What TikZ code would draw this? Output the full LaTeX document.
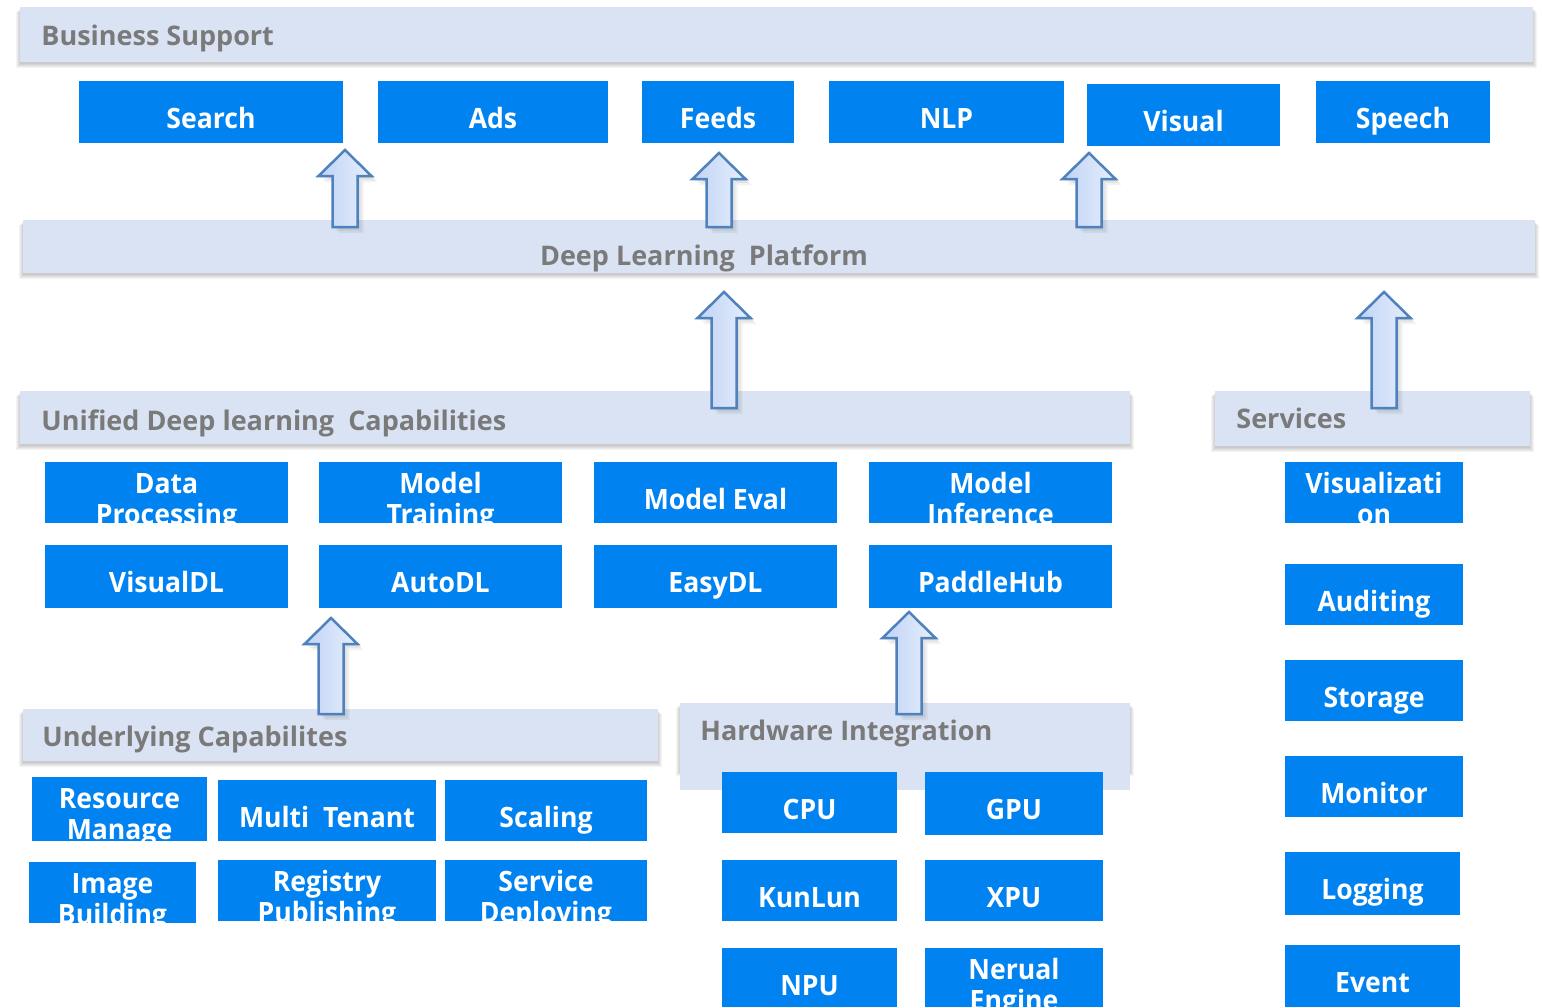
\documentclass[tikz,border=0pt]{standalone}
\usepackage{fontspec}
\newfontfamily\boxfont{Open Sans}[FakeStretch=0.95]
\newfontfamily\headfont{Open Sans}
\usetikzlibrary{calc}
\definecolor{boxblue}{RGB}{0,130,240}
\definecolor{barfill}{RGB}{218,227,243}
\definecolor{headgray}{RGB}{122,122,122}
\definecolor{arrline}{RGB}{79,129,189}
\definecolor{arrL}{RGB}{192,211,245}
\definecolor{arrR}{RGB}{230,238,252}
\tikzset{
  btext/.style={text=white, font=\boxfont\bfseries\fontsize{14}{14}\selectfont, inner sep=0pt, anchor=base},
  htext/.style={text=headgray, font=\headfont\bfseries\fontsize{13.5}{13.5}\selectfont, inner sep=0pt},
  arrowshape/.style={draw=arrline, line width=1.25pt, left color=arrL, right color=arrR, line join=miter},
  shadowlayer/.style={fill=black, opacity=0.045}
}
\newcommand\mkshadow[4]{%
  \foreach \s in {1,...,5}{\fill[shadowlayer] ({#1-\s+1},{#2+\s}) rectangle ({#3+\s-1},{#4+\s+1});}%
}
\newcommand\mkbar[5]{%
  \mkshadow{#2}{#3}{#4}{#5}%
  \fill[barfill] (#2,#3) rectangle (#4,#5);
  \coordinate (#1) at ({(#2+#4)/2},{(#3+#5)/2});
}
\newcommand\bbox[6]{%
  \fill[boxblue] (#2,#3) rectangle (#4,#5);
  \node[btext] (#1) at ({(#2+#4)/2},{#3+47}) {#6};
}
\newcommand\bboxtwo[7]{%
  \fill[boxblue] (#2,#3) rectangle (#4,#5);
  \begin{scope}
    \clip (#2,#3) rectangle (#4,#5);
    \node[btext] (#1) at ({(#2+#4)/2},{#3+31}) {#6};
    \node[btext] (#1-2) at ({(#2+#4)/2},{#3+62}) {#7};
  \end{scope}
}
\newcommand\blockarrow[4]{%
  \coordinate (#1-tip) at (#2,#3);
  \coordinate (#1-base) at (#2,#4);
  \foreach \s in {2,4,6}{%
    \fill[black,opacity=0.05] ($(#1-base)+(-12.5+\s,\s)$) -- ($(#1-tip)+(-12.5+\s,26+\s)$) -- ($(#1-tip)+(-26.5+\s,26+\s)$) -- ($(#1-tip)+(\s,\s)$) -- ($(#1-tip)+(26.5+\s,26+\s)$) -- ($(#1-tip)+(12.5+\s,26+\s)$) -- ($(#1-base)+(12.5+\s,\s)$) -- cycle;}
  \draw[arrowshape] ($(#1-base)+(-12.5,0)$) -- ($(#1-tip)+(-12.5,26)$) -- ($(#1-tip)+(-26.5,26)$) -- (#1-tip) -- ($(#1-tip)+(26.5,26)$) -- ($(#1-tip)+(12.5,26)$) -- ($(#1-base)+(12.5,0)$) -- cycle;
}
\begin{document}
\begin{tikzpicture}[x=0.5pt,y=-0.5pt]
\useasboundingbox (0,0) rectangle (1542,1007);
\fill[white] (0,0) rectangle (1542,1007);

% layer bars
\mkbar{bs}{20}{7}{1533}{62}
\mkbar{dlp}{23}{220}{1535}{273}
\mkbar{udc}{20}{391}{1130}{444}
\mkbar{srv}{1215}{391}{1530}{446}
\mkbar{uc}{23}{709}{658}{761}
\mkshadow{680}{703}{1130}{770}
\fill[barfill] (680,703) rectangle (1130,790);
\coordinate (hw) at (905,746);

\node[htext, anchor=base west] (t-bs) at (41,45) {Business Support};
\node[htext, anchor=base] (t-dlp) at (704,265) {Deep Learning\ \ Platform};
\node[htext, anchor=base west] (t-udc) at (41,430) {Unified Deep learning\ \ Capabilities};
\node[htext, anchor=base west] (t-srv) at (1236,428) {Services};
\node[htext, anchor=base west] (t-uc) at (42,746) {Underlying Capabilites};
\node[htext, anchor=base west] (t-hw) at (700,740) {Hardware Integration};

% business boxes
\bbox{search}{79}{81}{343}{143}{Search}
\bbox{ads}{378}{81}{608}{143}{Ads}
\bbox{feeds}{642}{81}{794}{143}{Feeds}
\bbox{nlp}{829}{81}{1064}{143}{NLP}
\bbox{visual}{1087}{84}{1280}{146}{Visual}
\bbox{speech}{1316}{81}{1490}{143}{Speech}

% unified capabilities
\bboxtwo{dp}{45}{462}{288}{523}{Data}{Processing}
\bboxtwo{mt}{319}{462}{562}{523}{Model}{Training}
\bbox{me}{594}{462}{837}{523}{Model Eval}
\bboxtwo{mi}{869}{462}{1112}{523}{Model}{Inference}
\bbox{vdl}{45}{545}{288}{608}{VisualDL}
\bbox{adl}{319}{545}{562}{608}{AutoDL}
\bbox{edl}{594}{545}{837}{608}{EasyDL}
\bbox{phub}{869}{545}{1112}{608}{PaddleHub}

% underlying
\bboxtwo{rm}{32}{777}{207}{841}{Resource}{Manage}
\bbox{mten}{218}{780}{436}{841}{Multi\ \ Tenant}
\bbox{scal}{445}{780}{647}{841}{Scaling}
\bboxtwo{ib}{29}{862}{196}{923}{Image}{Building}
\bboxtwo{rp}{218}{860}{436}{921}{Registry}{Publishing}
\bboxtwo{sd}{445}{860}{647}{921}{Service}{Deploying}

% hardware
\bbox{cpu}{722}{772}{897}{833}{CPU}
\bbox{gpu}{925}{772}{1103}{835}{GPU}
\bbox{kl}{722}{860}{897}{921}{KunLun}
\bbox{xpu}{925}{860}{1103}{921}{XPU}
\bbox{npu}{722}{948}{897}{1007}{NPU}
\bboxtwo{ne}{925}{948}{1103}{1007}{Nerual}{Engine}

% services
\bboxtwo{viz}{1285}{462}{1463}{523}{Visualizati}{on}
\bbox{aud}{1285}{564}{1463}{625}{Auditing}
\bbox{sto}{1285}{660}{1463}{721}{Storage}
\bbox{mon}{1285}{756}{1463}{817}{Monitor}
\bbox{log}{1285}{852}{1460}{915}{Logging}
\bbox{evt}{1285}{945}{1460}{1007}{Event}

% arrows
\blockarrow{a1}{345}{150}{227}
\blockarrow{a2}{719}{153}{227}
\blockarrow{a3}{1089}{153}{227}
\blockarrow{a4}{724}{292}{408}
\blockarrow{a5}{1384}{292}{408}
\blockarrow{a6}{331}{618}{714}
\blockarrow{a7}{909}{612}{714}
\end{tikzpicture}
\end{document}
